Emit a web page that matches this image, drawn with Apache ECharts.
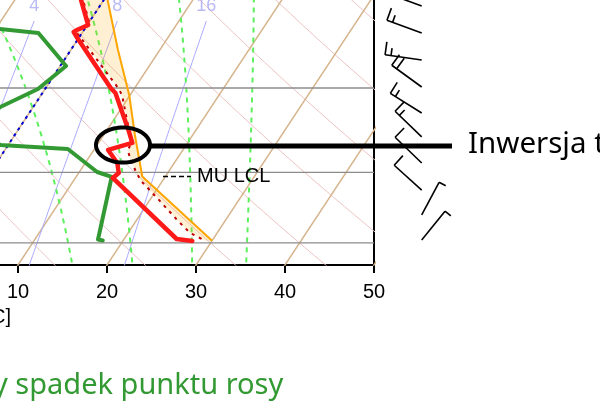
<!DOCTYPE html>
<html><head><meta charset="utf-8">
<script src="https://cdn.jsdelivr.net/npm/echarts@6/dist/echarts.min.js"></script>
<style>html,body{margin:0;padding:0;background:#fff;overflow:hidden}#c{width:600px;height:407px}</style>
</head><body><div id="c"></div>
<script>
// ---------------- data (pressure hPa, temperature °C) ----------------
const tempPressure = [546, 571.7, 605.6, 612.6, 615.4, 622.5, 700, 708.1, 771, 794.4, 807.3, 831.9, 851.2, 861.1, 990.9, 995.4];
const tempValues   = [-4.7, -2.55, 0.1, -0.8, -1.0, -0.3, 7.3, 8.2, 12.4, 13.8, 11.6, 13.6, 14.5, 14.2, 25.9, 27.8];

const dewPressure  = [609.8, 616.8, 665.4, 701.6, 731.3, 762.2, 798.1, 805.5, 849.3, 859.1, 992.0, 994.3];
const dewValues    = [-10.7, -4.9, 0.65, -0.8, -3.7, -5.2, -0.9, 7.0, 12.0, 14.0, 17.1, 17.7];

const virtPressure = [546, 571.7, 605.6, 612.6, 615.4, 622.5, 700, 711.4, 780.0, 792.6, 809.2, 822.3, 849.3, 867.0, 901.6, 948.4, 977.2, 994.7];
const virtValues   = [-4.45, -2.33, 0.31, -0.56, -0.74, 0.08, 8.13, 9.09, 12.95, 13.59, 13.91, 14.65, 16.37, 17.6, 20.66, 24.54, 26.96, 29.21];

const parcelPressure = [994.7, 858.1, 780.0, 711.4, 641.4, 571.7, 546];
const parcelValues   = [30.0, 17.4, 13.5, 9.9, 5.3, 0.43, -1.56];

const windPressure = [579.6, 616.8, 656.3, 698.4, 741.4, 783.5, 831.9, 885.3, 937.6, 993.1];
const windDir      = [290, 290, 278, 306, 302, 314, 314, 312, 28, 39];
const windSpeed    = [15, 15, 15, 20, 15, 15, 10, 10, 5, 5];

const isobars      = [1000, 850, 700];
const isotherms    = [-60, -50, -40, -30, -20, -10, 0, 10, 20, 30, 40, 50];
const dryAdiabats  = [-30, -20, -10, 0, 10, 20, 30, 40, 50, 60, 70, 80, 90, 100];
const moistAdiabats = [14, 21, 27.9, 34.1];
const mixingRatios = [1, 2, 4, 8, 16];
const xTicks = [0, 10, 20, 30, 40, 50];

// ---------------- skew-T geometry ----------------
const SKEW = 32.2, PB = 1052, PTOP = 571.7, BARB_X = 55.36;
function sx(T, p) { return T + SKEW * Math.log(PB / p); }
function pt(T, p) { return [sx(T, p), Math.log(p)]; }
function prof(ps, ts) { return ps.map((p, i) => pt(ts[i], p)); }
function esat(Tc) { return 6.112 * Math.exp(17.67 * Tc / (Tc + 243.5)); }
function tFromW(w, p) { const e = w * p / (622 + w); const l = Math.log(e / 6.112); return 243.5 * l / (17.67 - l); }
function moistLine(t1000) {
  const Rd = 287.04, cp = 1005.7, Lv = 2.501e6, eps = 0.622;
  const dTdp = (T, p) => { const e = esat(T - 273.15); const rs = eps * e / (p - e);
    return 1.04 * (Rd * T + Lv * rs) / (p * (cp + Lv * Lv * rs * eps / (Rd * T * T))); };
  const step = (T, p, dp) => { const k1 = dTdp(T, p); const k2 = dTdp(T + k1 * dp / 2, p + dp / 2); return T + k2 * dp; };
  const up = [], down = [];
  let T = t1000 + 273.15, p = 1000; up.push([p, T]);
  while (p > 530) { T = step(T, p, -2); p -= 2; up.push([p, T]); }
  T = t1000 + 273.15; p = 1000;
  while (p < 1070) { T = step(T, p, 2); p += 2; down.push([p, T]); }
  return down.reverse().concat(up).map(([pp, TT]) => pt(TT - 273.15, pp));
}

const series = [];
function addLine(data, color, width, type, z, extra) {
  series.push(Object.assign({
    type: 'line', data: data, symbol: 'none', silent: true, animation: false, z: z, clip: true,
    lineStyle: { color: color, width: width, type: type || 'solid' }
  }, extra || {}));
}
const pRange = []; for (let p = 1080; p >= 520; p -= 10) pRange.push(p);

dryAdiabats.forEach(th => addLine(pRange.map(p => pt((th + 273.15) * Math.pow(p / 1000, 0.2857) - 273.15, p)), '#eec2c2', 1, 'solid', 1));
isotherms.forEach(t => addLine([pt(t, 1080), pt(t, 520)], '#d6b48c', 1.5, 'solid', 1));
mixingRatios.forEach(w => { const ps = []; for (let p = 1080; p >= 600; p -= 10) ps.push(p);
  addLine(ps.map(p => pt(tFromW(w, p), p)), '#aaaaff', 1, 'solid', 1); });
moistAdiabats.forEach(t => addLine(moistLine(t), '#5cf05c', 2, [5, 5], 1));
isobars.forEach(p => addLine([[-30, Math.log(p)], [50, Math.log(p)]], '#8c8c8c', 1.3, 'solid', 1));
addLine([pt(0, 1080), pt(0, 520)], '#0000d0', 2, [3, 4], 2);

// CAPE shading between parcel (bottom -> top) and virtual temperature (top -> bottom)
const fillPts = prof(parcelPressure, parcelValues).concat(prof(virtPressure, virtValues));
series.push({
  type: 'custom', coordinateSystem: 'cartesian2d', clip: true, silent: true, animation: false, z: 2,
  data: [fillPts[0]],
  renderItem: function (params, api) {
    return { type: 'polygon', shape: { points: fillPts.map(d => api.coord(d)) }, style: { fill: 'rgba(255,165,0,0.17)' } };
  }
});

// mixing ratio labels
series.push({
  type: 'scatter', silent: true, animation: false, z: 3, symbolSize: 1, itemStyle: { color: 'rgba(0,0,0,0)' },
  data: mixingRatios.map(w => [sx(tFromW(w, 600), 600), Math.log(579.6), w]),
  label: { show: true, position: 'inside', formatter: p => String(p.value[2]), color: '#a8a8f2', fontSize: 18, fontFamily: 'Liberation Sans' }
});

addLine(prof(parcelPressure, parcelValues), '#ffa500', 2, 'solid', 4);
addLine(prof(virtPressure, virtValues), '#c00000', 2, [3, 5], 4);
addLine(prof(dewPressure, dewValues), '#339933', 4, 'solid', 5, { lineStyle: { color: '#339933', width: 4, join: 'round', cap: 'round' } });
addLine(prof(tempPressure, tempValues), '#ff1a1a', 4, 'solid', 6, { lineStyle: { color: '#ff1a1a', width: 4.5, join: 'round', cap: 'round' } });

// wind barbs
series.push({
  type: 'custom', coordinateSystem: 'cartesian2d', clip: false, silent: true, animation: false, z: 6,
  data: windPressure.map((p, i) => [BARB_X, Math.log(p), windDir[i], windSpeed[i]]),
  renderItem: function (params, api) {
    const base = api.coord([api.value(0), api.value(1)]);
    const r = api.value(2) * Math.PI / 180, s = api.value(3);
    const ux = Math.sin(r), uy = -Math.cos(r), L = 37;
    const hx = base[0] + ux * L, hy = base[1] + uy * L;
    const px = -uy, py = ux;
    const st = { stroke: '#000', lineWidth: 1.6 };
    const ch = [{ type: 'line', shape: { x1: base[0], y1: base[1], x2: hx, y2: hy }, style: st }];
    let k = 0, full = Math.floor(s / 10), half = (s % 10) >= 5;
    for (let i = 0; i < full; i++, k++) {
      const bx = hx - ux * 6 * k, by = hy - uy * 6 * k;
      ch.push({ type: 'line', shape: { x1: bx, y1: by, x2: bx + px * 13, y2: by + py * 13 }, style: st });
    }
    if (half) { const bx = hx - ux * 6 * k, by = hy - uy * 6 * k;
      ch.push({ type: 'line', shape: { x1: bx, y1: by, x2: bx + px * 7.5, y2: by + py * 7.5 }, style: st }); }
    return { type: 'group', children: ch };
  }
});

// annotation ellipse
const ell = []; for (let i = 0; i < 72; i++) { const a = i / 72 * 2 * Math.PI; ell.push([123 + 27 * Math.cos(a), 145 + 17.5 * Math.sin(a)]); }

const chart = echarts.init(document.getElementById('c'), null, { renderer: 'canvas' });
chart.setOption({
  animation: false,
  backgroundColor: '#ffffff',
  grid: { left: -71, right: 226, top: 0, bottom: 142, outerBoundsMode: 'none', containLabel: false },
  xAxis: {
    type: 'value', min: 0, max: 50, interval: 10,
    axisLine: { show: true, onZero: false, lineStyle: { color: '#000', width: 2 } },
    axisTick: { show: true, length: 8, lineStyle: { color: '#000', width: 2 } },
    axisLabel: { color: '#000', fontSize: 20, fontFamily: 'Liberation Sans', margin: 17, formatter: v => xTicks.indexOf(v) >= 0 ? String(v) : '' },
    splitLine: { show: false }
  },
  yAxis: {
    type: 'value', inverse: true, min: Math.log(PTOP), max: Math.log(PB), position: 'right',
    axisLine: { show: true, onZero: false, lineStyle: { color: '#000', width: 2 } },
    axisTick: { show: false }, axisLabel: { show: false }, splitLine: { show: false }
  },
  series: series,
  graphic: [
    { type: 'polygon', z: 100, shape: { points: ell }, style: { fill: 'none', stroke: '#000', lineWidth: 4 } },
    { type: 'line', z: 100, shape: { x1: 150, y1: 146, x2: 452, y2: 146 }, style: { stroke: '#000', lineWidth: 5 } },
    { type: 'text', z: 100, x: 468, y: 145, style: { text: 'Inwersja temperatury', fontSize: 29.5, fontFamily: 'Noto Sans', fill: '#000', verticalAlign: 'middle', align: 'left' } },
    { type: 'line', z: 100, shape: { x1: 163, y1: 176.5, x2: 191, y2: 176.5 }, style: { stroke: '#000', lineWidth: 1.3, lineDash: [5, 3] } },
    { type: 'text', z: 100, x: 197, y: 176, style: { text: 'MU LCL', fontSize: 20, fontFamily: 'Liberation Sans', fill: '#000', verticalAlign: 'middle', align: 'left' } },
    { type: 'text', z: 100, x: 11, y: 317, style: { text: '[°C]', fontSize: 20, fontFamily: 'Liberation Sans', fill: '#000', verticalAlign: 'middle', align: 'right' } },
    { type: 'text', z: 100, x: -7, y: 386, style: { text: 'y spadek punktu rosy', fontSize: 29, fontFamily: 'Noto Sans', fill: '#339933', verticalAlign: 'middle', align: 'left' } }
  ]
});
</script></body></html>
